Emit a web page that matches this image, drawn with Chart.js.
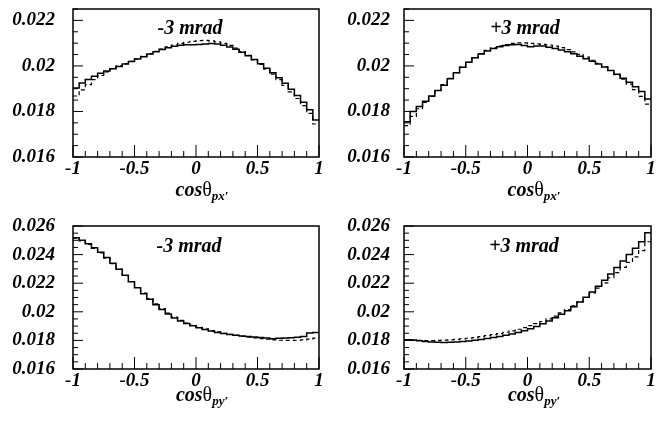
<!DOCTYPE html>
<html>
<head>
<meta charset="utf-8">
<script src="https://cdn.jsdelivr.net/npm/chart.js@4.4.1/dist/chart.umd.min.js"></script>
<style>
  body { margin: 0; background: #fff; }
  #page { position: relative; width: 670px; height: 424px; overflow: hidden; }
  .panel { position: absolute; width: 335px; height: 212px; }
  .panel canvas { position: absolute; left: 0; top: 0; }
  .tag, .axis {
    position: absolute; transform: translate(-50%, -50%); white-space: nowrap;
    font-family: "Liberation Serif", serif; font-weight: bold; font-style: italic; color: #000;
  }
  .tag { font-size: 20px; }
  .axis { font-size: 20px; }
  .axis .th { font-style: normal; font-weight: normal; }
  .axis sub { font-size: 13px; vertical-align: -4px; }
</style>
</head>
<body>
<div id="page"></div>
<script>
// bins : 40 bins de 0.05 entre -1 et 1
const nBins = 40;
const binEdges = Array.from({ length: nBins + 1 }, (_, i) => -1 + i * 0.05);

const xTicks = [-1, -0.5, 0, 0.5, 1];
const yTicksTop = [0.016, 0.018, 0.02, 0.022];
const yTicksBottom = [0.016, 0.018, 0.02, 0.022, 0.024, 0.026];

// cos theta px', -3 mrad
const pxMinusSolid = [
  0.01903, 0.01925, 0.01940, 0.01955, 0.01968, 0.01978, 0.01988, 0.01998, 0.02008, 0.02019,
  0.02030, 0.02040, 0.02052, 0.02062, 0.02072, 0.02080, 0.02086, 0.02091, 0.02093, 0.02093,
  0.02094, 0.02096, 0.02099, 0.02096, 0.02091, 0.02083, 0.02073, 0.02060, 0.02045, 0.02028,
  0.02010, 0.01990, 0.01970, 0.01948, 0.01924, 0.01898, 0.01870, 0.01840, 0.01808, 0.01762
];
const pxMinusDashed = [
  0.01868, 0.01895, 0.01918, 0.01940, 0.01958, 0.01974, 0.01988, 0.02000, 0.02010, 0.02020,
  0.02031, 0.02042, 0.02054, 0.02064, 0.02074, 0.02084, 0.02092, 0.02099, 0.02104, 0.02108,
  0.02111, 0.02112, 0.02110, 0.02106, 0.02099, 0.02090, 0.02078, 0.02063, 0.02046, 0.02027,
  0.02007, 0.01986, 0.01964, 0.01940, 0.01914, 0.01886, 0.01857, 0.01826, 0.01792, 0.01745
];

// cos theta px', +3 mrad
const pxPlusSolid = [
  0.01755, 0.01800, 0.01822, 0.01845, 0.01868, 0.01892, 0.01915, 0.01944, 0.01970, 0.01994,
  0.02016, 0.02036, 0.02052, 0.02065, 0.02076, 0.02084, 0.02090, 0.02093, 0.02094, 0.02090,
  0.02084, 0.02087, 0.02087, 0.02082, 0.02076, 0.02070, 0.02062, 0.02054, 0.02043, 0.02032,
  0.02020, 0.02008, 0.01995, 0.01980, 0.01963, 0.01946, 0.01928, 0.01908, 0.01888, 0.01855
];
const pxPlusDashed = [
  0.01738, 0.01778, 0.01812, 0.01840, 0.01866, 0.01892, 0.01918, 0.01945, 0.01970, 0.01995,
  0.02016, 0.02036, 0.02054, 0.02068, 0.02079, 0.02088, 0.02094, 0.02099, 0.02101, 0.02101,
  0.02099, 0.02097, 0.02095, 0.02092, 0.02087, 0.02080, 0.02072, 0.02062, 0.02051, 0.02039,
  0.02025, 0.02011, 0.01996, 0.01980, 0.01962, 0.01942, 0.01920, 0.01896, 0.01866, 0.01832
];

// cos theta py', -3 mrad
const pyMinusSolid = [
  0.02518, 0.02500, 0.02476, 0.02448, 0.02416, 0.02380, 0.02340, 0.02298, 0.02256, 0.02210,
  0.02168, 0.02126, 0.02088, 0.02050, 0.02016, 0.01984, 0.01956, 0.01936, 0.01918, 0.01902,
  0.01888, 0.01876, 0.01865, 0.01856, 0.01848, 0.01842, 0.01836, 0.01831, 0.01827, 0.01823,
  0.01820, 0.01816, 0.01812, 0.01815, 0.01816, 0.01819, 0.01822, 0.01828, 0.01852, 0.01856
];
const pyMinusDashed = [
  0.02515, 0.02495, 0.02472, 0.02444, 0.02412, 0.02376, 0.02337, 0.02296, 0.02254, 0.02212,
  0.02170, 0.02130, 0.02092, 0.02056, 0.02022, 0.01991, 0.01963, 0.01940, 0.01921, 0.01905,
  0.01892, 0.01880, 0.01869, 0.01859, 0.01850, 0.01842, 0.01835, 0.01829, 0.01823, 0.01818,
  0.01813, 0.01808, 0.01804, 0.01801, 0.01800, 0.01800, 0.01801, 0.01804, 0.01809, 0.01816
];

// cos theta py', +3 mrad
const pyPlusSolid = [
  0.01805, 0.01802, 0.01797, 0.01792, 0.01789, 0.01787, 0.01786, 0.01787, 0.01789, 0.01792,
  0.01796, 0.01801, 0.01807, 0.01813, 0.01820, 0.01828, 0.01836, 0.01845, 0.01856, 0.01868,
  0.01882, 0.01898, 0.01916, 0.01936, 0.01958, 0.01982, 0.02008, 0.02036, 0.02068, 0.02102,
  0.02138, 0.02178, 0.02220, 0.02264, 0.02310, 0.02356, 0.02400, 0.02444, 0.02490, 0.02552
];
const pyPlusDashed = [
  0.01805, 0.01802, 0.01800, 0.01799, 0.01799, 0.01800, 0.01802, 0.01804, 0.01807, 0.01811,
  0.01815, 0.01820, 0.01826, 0.01833, 0.01840, 0.01848, 0.01857, 0.01867, 0.01878, 0.01890,
  0.01903, 0.01917, 0.01932, 0.01950, 0.01970, 0.01992, 0.02016, 0.02042, 0.02070, 0.02100,
  0.02132, 0.02166, 0.02202, 0.02238, 0.02274, 0.02310, 0.02346, 0.02384, 0.02428, 0.02490
];

const panels = [
  { left: 0,   top: 0,   solid: pxMinusSolid, dashed: pxMinusDashed, yMin: 0.016, yMax: 0.0225, yTicks: yTicksTop,
    tag: '-3 mrad', sub: 'px', area: { l: 73, r: 319, t: 9 }, tagPos: [190, 27], axisPos: [202, 191], pad: 18 },
  { left: 335, top: 0,   solid: pxPlusSolid, dashed: pxPlusDashed, yMin: 0.016, yMax: 0.0225, yTicks: yTicksTop,
    tag: '+3 mrad', sub: 'px', area: { l: 69, r: 316, t: 9 }, tagPos: [190, 27], axisPos: [199, 191], pad: 14 },
  { left: 0,   top: 212, solid: pyMinusSolid, dashed: pyMinusDashed, yMin: 0.016, yMax: 0.026, yTicks: yTicksBottom,
    tag: '-3 mrad', sub: 'py', area: { l: 73, r: 319, t: 14 }, tagPos: [189, 33], axisPos: [202, 184], pad: 18 },
  { left: 335, top: 212, solid: pyPlusSolid, dashed: pyPlusDashed, yMin: 0.016, yMax: 0.026, yTicks: yTicksBottom,
    tag: '+3 mrad', sub: 'py', area: { l: 69, r: 316, t: 14 }, tagPos: [189, 33], axisPos: [199, 184], pad: 14 }
];

// histogramme en marches : deux points par bin
function stepPoints(values) {
  const pts = [];
  values.forEach((v, i) => {
    pts.push({ x: binEdges[i], y: v });
    pts.push({ x: binEdges[i + 1], y: v });
  });
  return pts;
}

// cadre + graduations vers l'intérieur, façon ROOT
const rootFrame = {
  id: 'rootFrame',
  afterDraw(chart) {
    const { ctx, chartArea: a, scales: { x, y } } = chart;
    ctx.save();
    ctx.strokeStyle = '#000';
    ctx.lineWidth = 1;
    ctx.beginPath();
    for (let i = 0; i <= 20; i++) {
      const px = x.getPixelForValue(-1 + i * 0.1);
      const len = i % 5 === 0 ? 12 : 6;
      ctx.moveTo(px, a.bottom);
      ctx.lineTo(px, a.bottom - len);
    }
    const nMinor = Math.round((y.max - y.min) / 0.0005);
    for (let i = 0; i <= nMinor; i++) {
      const py = y.getPixelForValue(y.min + i * 0.0005);
      const len = i % 4 === 0 ? 10 : 5;
      ctx.moveTo(a.left, py);
      ctx.lineTo(a.left + len, py);
    }
    ctx.stroke();
    ctx.lineWidth = 1.5;
    ctx.strokeRect(a.left, a.top, a.right - a.left, a.bottom - a.top);
    ctx.restore();
  }
};

const tickFont = { family: 'Liberation Serif', size: 19, weight: 'bold', style: 'italic' };
const fmt = v => String(parseFloat(Number(v).toFixed(4)));

const page = document.getElementById('page');

panels.forEach(p => {
  const div = document.createElement('div');
  div.className = 'panel';
  div.style.left = p.left + 'px';
  div.style.top = p.top + 'px';
  div.innerHTML = `<canvas width="335" height="212"></canvas>
    <div class="tag" style="left:${p.tagPos[0]}px;top:${p.tagPos[1]}px">${p.tag}</div>
    <div class="axis" style="left:${p.axisPos[0]}px;top:${p.axisPos[1]}px">cos<span class="th">θ</span><sub>${p.sub}′</sub></div>`;
  page.appendChild(div);

  new Chart(div.querySelector('canvas').getContext('2d'), {
    type: 'line',
    data: {
      datasets: [
        {
          data: stepPoints(p.dashed),
          borderColor: '#000',
          borderWidth: 1.2,
          borderDash: [4, 3],
          pointRadius: 0,
          tension: 0,
          fill: false
        },
        {
          data: stepPoints(p.solid),
          borderColor: '#000',
          borderWidth: 1.5,
          pointRadius: 0,
          tension: 0,
          fill: false
        }
      ]
    },
    options: {
      responsive: false,
      animation: false,
      devicePixelRatio: 1,
      layout: { padding: { top: p.area.t, right: 335 - p.area.r, left: 0, bottom: 0 } },
      plugins: { legend: { display: false }, tooltip: { enabled: false } },
      scales: {
        x: {
          type: 'linear',
          min: -1,
          max: 1,
          grid: { display: false, drawTicks: false },
          border: { display: false },
          afterBuildTicks: s => { s.ticks = xTicks.map(v => ({ value: v })); },
          afterFit: s => { s.height = 55; s.paddingLeft = 0; s.paddingRight = 0; },
          ticks: { color: '#000', font: tickFont, padding: 1, maxRotation: 0, callback: fmt }
        },
        y: {
          type: 'linear',
          min: p.yMin,
          max: p.yMax,
          grid: { display: false, drawTicks: false },
          border: { display: false },
          afterBuildTicks: s => { s.ticks = p.yTicks.map(v => ({ value: v })); },
          afterFit: s => { s.width = p.area.l; s.paddingTop = 0; s.paddingBottom = 0; },
          ticks: { color: '#000', font: tickFont, padding: p.pad, callback: fmt }
        }
      }
    },
    plugins: [rootFrame]
  });
});
</script>
</body>
</html>
